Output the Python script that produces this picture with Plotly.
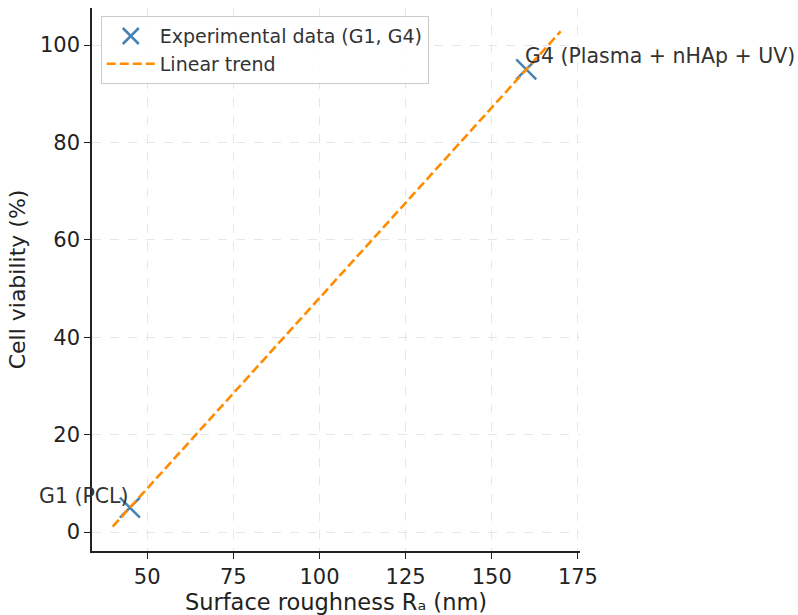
import plotly.graph_objects as go

# Data
groups = ["G1 (PCL)", "G4 (Plasma + nHAp + UV)"]
roughness = [45, 160]
viability = [5, 95]
trend_x = [40, 170]
trend_y = [1.1, 102.8]
x_ticks = [50, 75, 100, 125, 150, 175]
y_ticks = [0, 20, 40, 60, 80, 100]

font_family = "DejaVu Sans"
fig = go.Figure()
fig.add_trace(go.Scatter(
    x=roughness, y=viability, mode="markers", name="Experimental data (G1, G4)",
    marker=dict(symbol="x-thin", size=20, line=dict(color="#4682b4", width=2.5), color="#4682b4"),
))
fig.add_trace(go.Scatter(
    x=trend_x, y=trend_y, mode="lines", name="Linear trend",
    line=dict(color="#ff8c00", width=2.6, dash="9px,4px"),
))

fig.add_annotation(x=roughness[0], y=viability[0], text=groups[0], showarrow=False,
                   xanchor="right", yanchor="bottom", yshift=-2, xshift=1,
                   font=dict(size=20.5, color="#333333", family=font_family))
fig.add_annotation(x=roughness[1], y=viability[1], text=groups[1], showarrow=False,
                   xanchor="left", yanchor="bottom", yshift=-1, xshift=-3,
                   font=dict(size=20.5, color="#333333", family=font_family))

axis_common = dict(
    showline=True, linecolor="#222222", linewidth=1.6, mirror=False,
    ticks="outside", ticklen=6, tickwidth=1.4, tickcolor="#222222",
    showgrid=True, gridcolor="#e6e6e6", griddash="dash", gridwidth=1,
    zeroline=False, automargin=False,
    tickfont=dict(size=21, color="#222222", family=font_family),
)
fig.update_xaxes(range=[34, 175.6], tickvals=x_ticks,
                 title=dict(text="Surface roughness Rₐ (nm)", font=dict(size=22.5, color="#222222", family=font_family), standoff=3),
                 **axis_common)
fig.update_yaxes(range=[-3.9, 107.6], tickvals=y_ticks,
                 title=dict(text="Cell viability (%)", font=dict(size=22, color="#222222", family=font_family), standoff=8),
                 **axis_common)

fig.update_layout(
    width=798, height=615,
    margin=dict(l=92, r=218, t=8, b=64, autoexpand=False),
    paper_bgcolor="white", plot_bgcolor="white",
    font=dict(family=font_family),
    legend=dict(x=0.018, y=0.985, xanchor="left", yanchor="top",
                bgcolor="rgba(255,255,255,0.85)", bordercolor="#cccccc", borderwidth=1,
                font=dict(size=19, color="#333333", family=font_family),
                itemwidth=48, tracegroupgap=0),
    showlegend=True,
)

fig.write_html("out.html")
